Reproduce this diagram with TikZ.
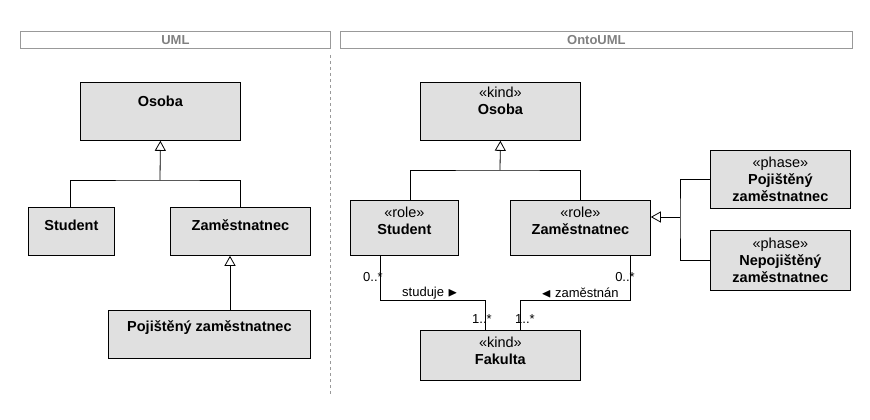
\documentclass[tikz,border=0pt]{standalone}
\usepackage{amssymb}
\usepackage{fontspec}
\setmainfont{Liberation Sans}
\usetikzlibrary{arrows.meta,positioning}
\definecolor{boxgray}{HTML}{E0E0E0}
\tikzset{
  cls/.style={draw, fill=boxgray, minimum width=#1, font=\fontsize{14.5}{17}\selectfont, align=center, anchor=north west, inner sep=1pt},
  cls/.default=160pt,
  hdr/.style={draw=black!40, minimum height=17pt, anchor=north west, text=black!50, font=\fontsize{13}{15}\selectfont\bfseries, inner sep=1pt},
  gen/.style={-{Triangle[open,length=10pt,width=11pt]}},
  lbl/.style={font=\fontsize{13}{15}\selectfont, inner sep=1pt}
}
\begin{document}
\begin{tikzpicture}[x=1pt,y=-1pt,line width=0.8pt]
    \useasboundingbox (0,0) rectangle (870,420);
    % headers
    \node[hdr, minimum width=310pt] (huml) at (20,31) {UML};
    \node[hdr, minimum width=512pt] (honto) at (340,31) {OntoUML};
    \draw[black!40, dashed] (330,55) -- (330,395);
    % UML classes
    \node[cls, minimum height=58pt] (osoba) at (80,82) {\textbf{Osoba}\\[4pt]};
    \node[cls=86pt, minimum height=48pt] (student) at (28,207) {\textbf{Student}\\[-4pt]};
    \node[cls=140pt, minimum height=48pt] (zam) at (170,207) {\textbf{Zaměstnatnec}\\[-4pt]};
    \node[cls=202pt, minimum height=48pt] (poj) at (108,310) {\textbf{Pojištěný zaměstnatnec}\\[0pt]};
    \coordinate (g1) at (160,180);
    \draw (student.north -| 70,0) |- (g1) -| (zam.north);
    \draw[gen] (g1) -- (osoba.south);
    \draw[gen] (poj.north -| 230,0) -- (zam.south -| 230,0);
    % OntoUML classes
    \node[cls, minimum height=58pt] (oosoba) at (420,82) {«kind»\\\textbf{Osoba}\\[4pt]};
    \node[cls=108pt, minimum height=55pt] (ostudent) at (350,200) {«role»\\\textbf{Student}\\[-3pt]};
    \node[cls=140pt, minimum height=55pt] (ozam) at (510,200) {«role»\\\textbf{Zaměstnatnec}\\[-3pt]};
    \node[cls=140pt, minimum height=58pt] (pposj) at (710,150) {«phase»\\\textbf{Pojištěný}\\\textbf{zaměstnatnec}};
    \node[cls=140pt, minimum height=60pt] (nepoj) at (710,230) {«phase»\\\textbf{Nepojištěný}\\\textbf{zaměstnatnec}};
    \node[cls, minimum height=50pt] (fakulta) at (420,330) {«kind»\\\textbf{Fakulta}\\[-8pt]};
    \coordinate (g2) at (500,170);
    \draw (ostudent.north -| 410,0) |- (g2) -| (ozam.north -| 580,0);
    \draw[gen] (g2) -- (oosoba.south);
    \coordinate (g3) at (680,217);
    \draw (pposj.west) -| (g3) |- (nepoj.west);
    \draw[gen] (g3) -- (ozam.east |- g3);
    % associations
    \coordinate (s1) at (380,300);
    \coordinate (s2) at (485,300);
    \draw (ostudent.south -| s1) -- (s1) -- (s2) -- (fakulta.north -| s2);
    \coordinate (z1) at (630,300);
    \coordinate (z2) at (520,300);
    \draw (ozam.south -| z1) -- (z1) -- (z2) -- (fakulta.north -| z2);
    \node[lbl] (m1) at (373,277) {0..*};
    \node[lbl] (m2) at (482,319) {1..*};
    \node[lbl] (m3) at (625,277) {0..*};
    \node[lbl] (m4) at (525,319) {1..*};
    \node[lbl] (a1) at (430,293) {studuje $\blacktriangleright$};
    \node[lbl] (a2) at (580,293) {$\blacktriangleleft$ zaměstnán};
\end{tikzpicture}
\end{document}
